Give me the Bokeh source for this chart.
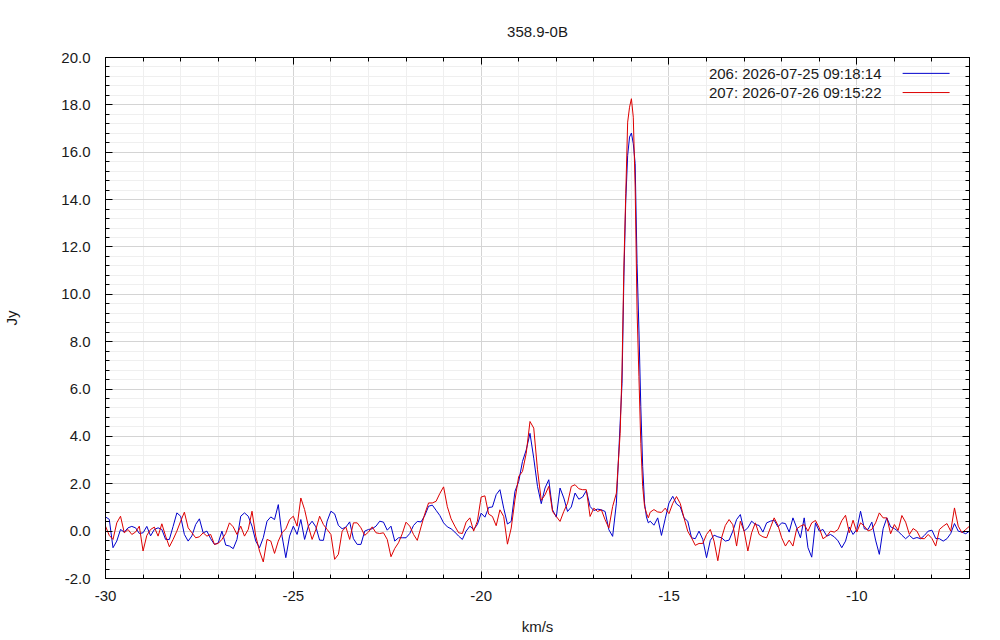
import numpy as np
from bokeh.plotting import figure
from bokeh.models import (Range1d, LinearAxis, FixedTicker, CustomJSTickFormatter,
                          PrintfTickFormatter, Label, Arrow)
from bokeh.embed import file_html
from bokeh.resources import INLINE

TITLE = "358.9-0B"
X_LABEL = "km/s"
Y_LABEL = "Jy"
LEGEND_206 = "206:   2026-07-25 09:18:14"
LEGEND_207 = "207:   2026-07-26 09:15:22"

# channel grid (km/s): coarse channels, finer channels across the main peak
CH1_START, CH1_STEP, CH1_N = -30.0, 0.1, 137
CH2_START, CH2_STEP, CH2_N = -16.3, 0.05, 17
CH3_START, CH3_STEP, CH3_N = -15.4, 0.1, 85

# scan 206 (blue), Jy
flux_206_a = [
    0.6, 0.5, -0.7, -0.42, 0.07, -0.04, 0.14, 0.2, 0.14, -0.1,
    -0.07, 0.2, -0.2, 0.07, 0.14, 0.07, -0.35, -0.35, 0.2, 0.77,
    0.63, -0.14, -0.42, -0.2, 0.28, 0.52, -0.07, 0.0, -0.32, -0.56,
    -0.5, 0.0, -0.59, -0.63, -0.74, -0.35, 0.63, 0.77, 0.63, 0.21,
    -0.42, -0.7, -0.28, 0.42, 0.6, 0.49, 1.12, -0.21, -1.12, -0.21,
    0.21, -0.14, 0.49, -0.35, 0.21, 0.42, 0.18, -0.38, -0.39, 0.42,
    0.84, 0.73, 0.24, 0.1, 0.17, 0.39, -0.32, -0.56, -0.56, 0.0,
    0.07, 0.1, 0.21, 0.42, 0.38, 0.04, 0.21, -0.42, -0.28, -0.28,
    -0.28, -0.1, 0.24, 0.41, 0.39, 0.66, 1.05, 1.1, 0.88, 0.66,
    0.35, 0.18, 0.1, -0.04, -0.21, -0.35, 0.0, 0.21, 0.07, 0.28,
    0.76, 0.59, 1.0, 1.02, 1.54, 1.75, 0.97, 0.3, 0.41, 1.68,
    2.1, 2.94, 3.43, 4.13, 3.08, 1.89, 1.16, 1.82, 2.17, 0.9,
    0.59, 1.82, 1.4, 0.83, 1.02, 1.61, 1.35, 1.44, 1.71, 1.04,
    0.87, 0.93, 0.9, 0.83, 0.06, -0.22, 1.18,
]
flux_206_b = [
    4.56, 6.24, 10.74, 13.97, 15.87, 16.64, 16.81, 16.36, 15.52, 11.3,
    8.49, 5.26, 2.73, 1.18, 0.6, 0.35, 0.42,
]
flux_206_c = [
    0.25, 0.56, -0.18, 0.52, 1.19, 1.47, 1.15, 1.03, 0.56, 0.42,
    -0.28, -0.32, 0.0, -0.35, -1.12, -0.39, -0.17, -0.24, -0.28, -0.42,
    -0.38, 0.0, 0.49, 0.7, 0.0, 0.14, 0.42, 0.28, 0.24, -0.04,
    0.35, 0.42, 0.46, 0.18, 0.35, 0.32, -0.04, 0.56, 0.14, -0.28,
    0.56, -0.7,
    -1.1, 0.35, 0.0, 0.07, -0.21, -0.14, -0.24, -0.41, -0.7, -0.42,
    0.17, -0.14, 0.07, 0.84, 0.1, 0.07, 0.38, -0.38, -0.98, 0.1,
    0.56, 0.18, 0.11, -0.01, -0.17, -0.32, -0.18, -0.32, -0.27, -0.32,
    -0.18, 0.0, 0.04, -0.31, -0.32, -0.42, -0.32, -0.1, 0.32, 0.0,
    -0.04, -0.11, 0.0,
]

# scan 207 (red), Jy
flux_207_a = [
    0.21, -0.18, -0.35, 0.35, 0.63, -0.07, 0.07, -0.14, -0.04, 0.21,
    -0.84, -0.18, 0.07, 0.17, -0.21, 0.31, -0.21, -0.66, -0.35, 0.0,
    0.42, 0.8, 0.14, -0.07, -0.28, -0.24, -0.07, -0.21, -0.14, -0.56,
    -0.52, -0.35, -0.1, 0.35, 0.18, -0.14, 0.21, -0.21, 0.07, 0.84,
    -0.21, -0.84, -1.3, -0.35, -0.42, -0.94, -0.42, -0.07, 0.1, 0.49,
    0.63, 0.21, 1.4, 0.91, 0.21, -0.35, 0.07, 0.63, 0.28, 0.07,
    -0.14, -1.19, -0.98, 0.0, 0.17, -0.35, 0.35, 0.35, 0.14, -0.18,
    -0.04, 0.18, -0.07, -0.1, -0.07, -0.35, -1.08, -0.73, -0.49, -0.11,
    0.38, 0.21, -0.14, -0.39, 0.18, 0.73, 1.19, 1.19, 1.26, 1.59,
    1.87, 1.03, 0.52, 0.21, -0.07, -0.1, 0.38, 0.56, 0.0, 0.42,
    1.44, 1.49, 0.72, 0.62, 0.23, 0.9, 0.62, -0.55, 0.13, 1.32,
    2.31, 2.52, 3.29, 4.63, 4.35, 2.59, 1.3, 1.53, 1.89, 0.83,
    0.62, 0.41, 0.83, 1.18, 1.89, 1.96, 1.79, 1.75, 1.75, 0.62,
    0.97, 0.83, 0.9, 0.48, 0.13, 1.04, 1.6,
]
flux_207_b = [
    4.13, 6.8, 11.2, 14.25, 17.27, 17.9, 18.26, 17.48, 14.53, 9.33,
    6.52, 3.71, 1.89, 1.04, 0.76, 0.56, 0.8,
]
flux_207_c = [
    0.91, 0.81, 0.79, 0.97, 0.74, 1.17, 1.46, 1.17, 0.56, -0.01,
    -0.28, -0.6, -0.52, -0.52, -0.14, 0.07, -0.42, -1.25, -0.28, 0.24,
    0.49, 0.27, -0.63, 0.42, 0.0, -0.84, -0.07, 0.35, -0.14, -0.24,
    -0.28, 0.14, 0.56, 0.25, -0.28, -0.63, -0.38, -0.63, 0.1, 0.21,
    0.28, 0.0,
    0.35, 0.45, 0.14, -0.32, -0.21, 0.0, -0.04, 0.07, 0.44, 0.67,
    -0.07, 0.46, -0.04, 0.35, 0.21, 0.01, 0.07, 0.35, 0.77, 0.56,
    0.56, -0.11, 0.28, 0.03, 0.66, 0.38, -0.14, 0.11, 0.0, -0.31,
    -0.32, -0.14, -0.31, -0.63, 0.07, 0.21, 0.32, 0.0, 0.98, 0.21,
    -0.07, 0.07, 0.21,
]

x_major = [-30, -25, -20, -15, -10]
x_minor = list(range(-30, -6))
y_major = [-2, 0, 2, 4, 6, 8, 10, 12, 14, 16, 18, 20]
y_minor = [round(-2 + 0.4 * k, 2) for k in range(56)]

vel = np.concatenate([
    np.round(CH1_START + CH1_STEP * np.arange(CH1_N), 3),
    np.round(CH2_START + CH2_STEP * np.arange(CH2_N), 3),
    np.round(CH3_START + CH3_STEP * np.arange(CH3_N), 3),
])
f206 = np.array(flux_206_a + flux_206_b + flux_206_c)
f207 = np.array(flux_207_a + flux_207_b + flux_207_c)

FONT = "Liberation Sans"
BLUE = "#0000cc"
RED = "#dd0000"

p = figure(width=992, height=637, output_backend="svg", toolbar_location=None,
           x_range=Range1d(-30, -7), y_range=Range1d(-2, 20),
           min_border_left=105, min_border_right=23, min_border_top=57,
           min_border_bottom=53)
p.background_fill_color = "white"
p.border_fill_color = "white"
p.outline_line_color = "black"
p.outline_line_width = 1

p.title.text = TITLE
p.title.align = "center"
p.title.text_font = FONT
p.title.text_font_size = "15px"
p.title.text_font_style = "normal"
p.title.text_color = "#1a1a1a"
p.title.standoff = 36

xt = FixedTicker(ticks=x_major, minor_ticks=x_minor)
yt = FixedTicker(ticks=y_major, minor_ticks=y_minor)

def style_axis(ax, ticker):
    ax.ticker = ticker
    ax.axis_line_color = "black"
    ax.major_tick_line_color = "black"
    ax.minor_tick_line_color = "black"
    ax.major_tick_in = 7
    ax.major_tick_out = 0
    ax.minor_tick_in = 4
    ax.minor_tick_out = 0
    ax.major_label_text_font = FONT
    ax.major_label_text_font_size = "15px"
    ax.major_label_text_color = "#1a1a1a"
    ax.axis_label_text_font = FONT
    ax.axis_label_text_font_size = "15px"
    ax.axis_label_text_font_style = "normal"
    ax.axis_label_text_color = "#1a1a1a"

style_axis(p.xaxis[0], xt)
style_axis(p.yaxis[0], yt)
p.xaxis[0].formatter = CustomJSTickFormatter(code="return tick.toFixed(0)")
p.xaxis[0].major_label_standoff = 12
p.xaxis[0].axis_label = X_LABEL
p.xaxis[0].axis_label_standoff = 14
p.yaxis[0].formatter = PrintfTickFormatter(format="%.1f")
p.yaxis[0].major_label_standoff = 15
p.yaxis[0].axis_label = Y_LABEL
p.yaxis[0].axis_label_standoff = 38

blank = CustomJSTickFormatter(code="return ''")
top_ax = LinearAxis(formatter=blank, major_label_standoff=0)
style_axis(top_ax, xt)
right_ax = LinearAxis(formatter=blank, major_label_standoff=0)
style_axis(right_ax, yt)
p.add_layout(top_ax, "above")
p.add_layout(right_ax, "right")

p.xgrid.ticker = xt
p.ygrid.ticker = yt
for g in (p.xgrid[0], p.ygrid[0]):
    g.grid_line_color = "#d4d4d4"
    g.grid_line_width = 1
    g.minor_grid_line_color = "#efefef"
    g.minor_grid_line_width = 1

p.line(vel, f206, line_color=BLUE, line_width=1)
p.line(vel, f207, line_color=RED, line_width=1)

# key (text right-justified, sample line to its right), placed in plot coords
for txt, col, ky in ((LEGEND_206, BLUE, 19.33), (LEGEND_207, RED, 18.52)):
    p.add_layout(Label(x=-9.12, y=ky, text=txt, text_align="right",
                       text_baseline="middle", text_font=FONT,
                       text_font_size="15px", text_color="#1a1a1a"))
    p.add_layout(Arrow(end=None, x_start=-8.78, y_start=ky, x_end=-7.53, y_end=ky,
                       line_color=col, line_width=1))

open("out.html", "w").write(file_html(p, INLINE))
